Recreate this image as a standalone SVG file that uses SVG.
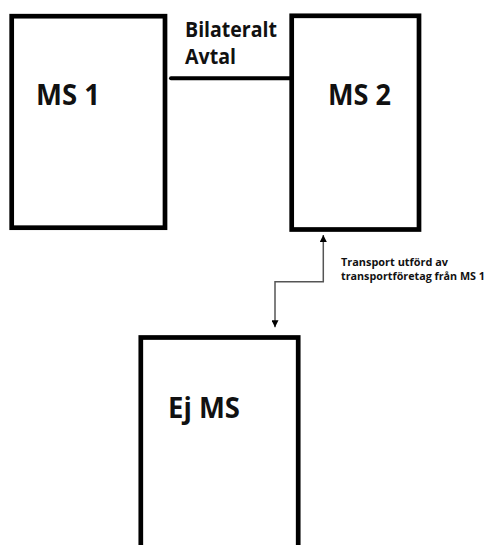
<svg xmlns="http://www.w3.org/2000/svg" width="488" height="545" viewBox="0 0 488 545">
<style>
.box{fill:#fff;stroke:#000;stroke-width:4.7}
.big{font-family:"Open Sans",Lato,"Liberation Sans",sans-serif;font-weight:bold;fill:#111;font-size:28px}
.mid{font-family:"Open Sans",Lato,"Liberation Sans",sans-serif;font-weight:bold;fill:#111;font-size:21px}
.small{font-family:"Open Sans",Lato,"Liberation Sans",sans-serif;font-weight:bold;fill:#111;font-size:11px}
.conn{fill:none;stroke:#555;stroke-width:1.5}
</style>
<defs>
<marker id="ah" viewBox="0 0 10 10" refX="10" refY="5" markerWidth="7" markerHeight="7" markerUnits="userSpaceOnUse" orient="auto-start-reverse">
<path d="M0,0 L10,5 L0,10 z" fill="#000"/>
</marker>
</defs>
<rect width="488" height="545" fill="#fff"/>
<g id="connectors">
<path d="M171,78.3 H290" stroke="#000" stroke-width="4" stroke-linecap="round" fill="none"/>
<path class="conn" d="M323.3,235 V281.7 H275 V327.3" marker-start="url(#ah)" marker-end="url(#ah)"/>
<text class="mid" x="185" y="36.5" textLength="92" lengthAdjust="spacingAndGlyphs">Bilateralt</text>
<text class="mid" x="185" y="63.5" textLength="51" lengthAdjust="spacingAndGlyphs">Avtal</text>
<text class="small" x="341" y="266" textLength="107" lengthAdjust="spacingAndGlyphs">Transport utförd av</text>
<text class="small" x="341" y="280" textLength="144" lengthAdjust="spacingAndGlyphs">transportföretag från MS 1</text>
</g>
<g id="ms1">
<rect class="box" x="11.7" y="16.2" width="153.3" height="211.5"/>
<text class="big" x="36" y="105" textLength="64" lengthAdjust="spacingAndGlyphs">MS 1</text>
</g>
<g id="ms2">
<rect class="box" x="291.7" y="15.8" width="127.3" height="213.7"/>
<text class="big" x="328" y="105" textLength="63" lengthAdjust="spacingAndGlyphs">MS 2</text>
</g>
<g id="ejms">
<rect class="box" x="140.8" y="337.5" width="157.4" height="230"/>
<text class="big" x="168" y="418.3" textLength="72" lengthAdjust="spacingAndGlyphs">Ej MS</text>
</g>
</svg>
